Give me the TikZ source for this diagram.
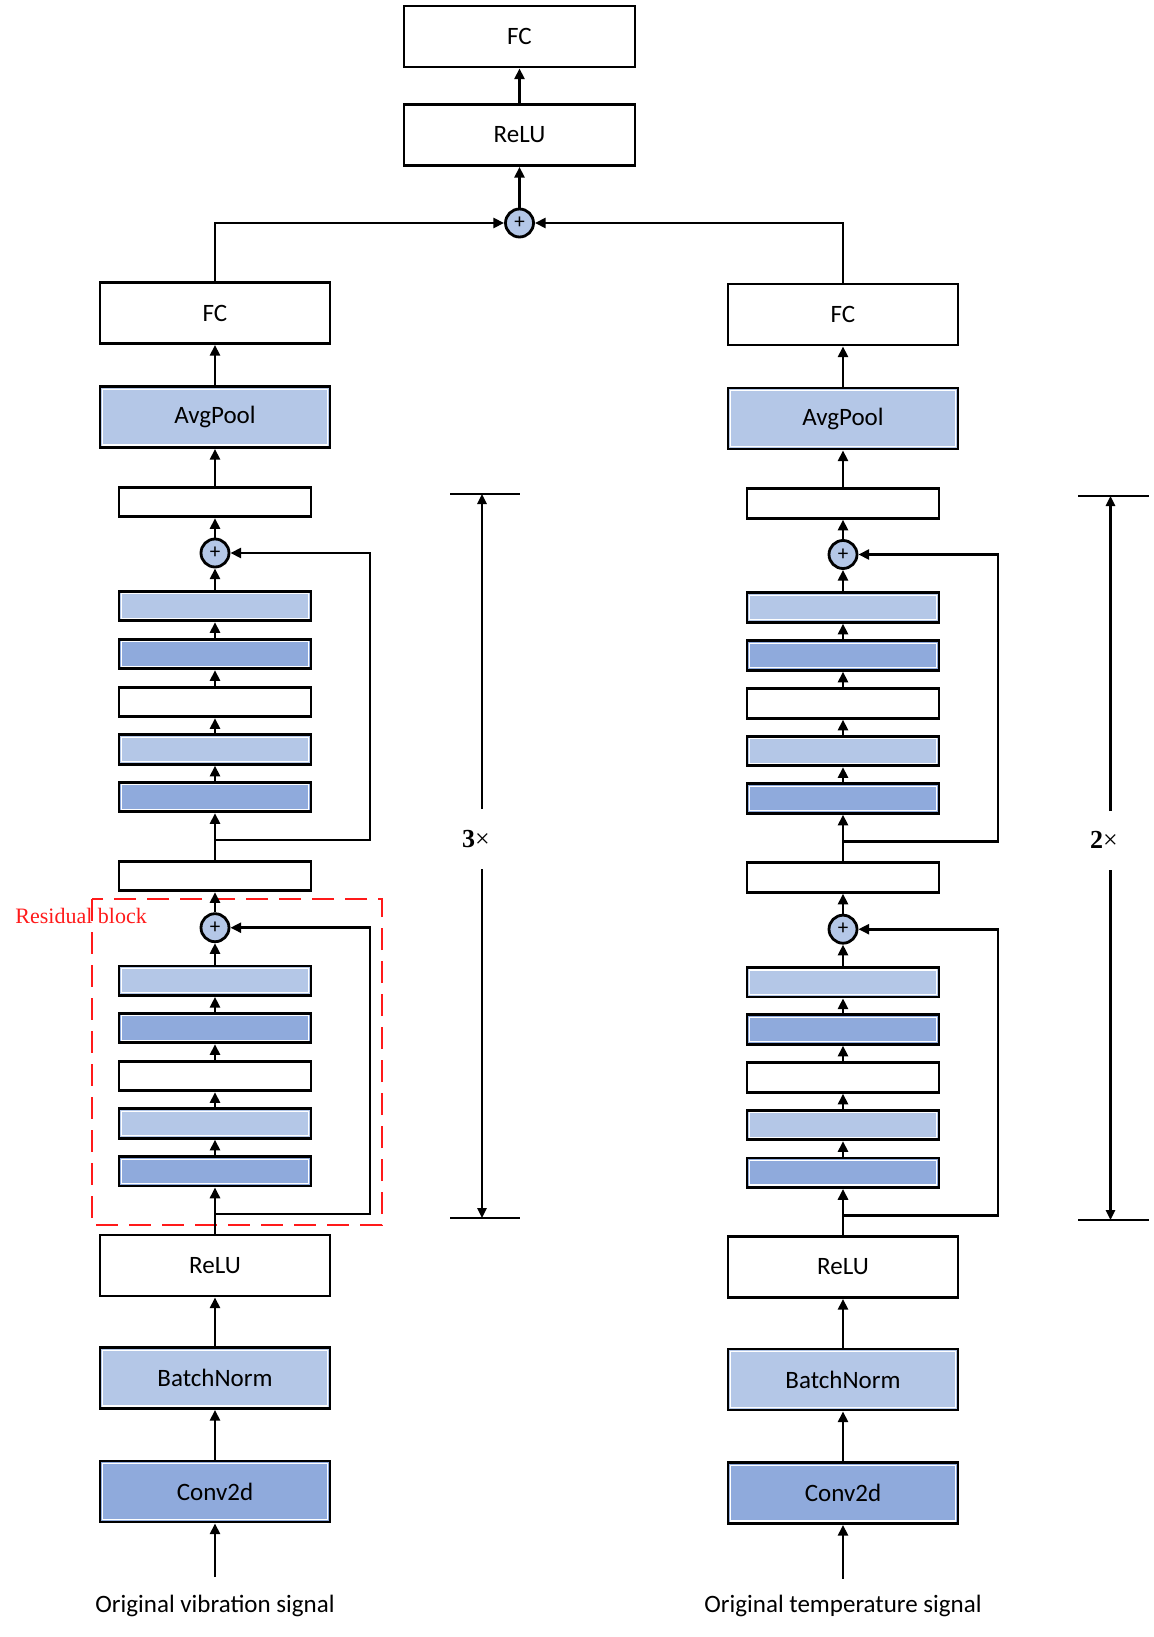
\documentclass[tikz,border=0pt]{standalone}
\usepackage{fontspec}
\setmainfont{Carlito}
\newfontfamily\serifred{Liberation Serif}
\usetikzlibrary{arrows.meta}
\definecolor{lightb}{HTML}{B4C7E7}
\definecolor{darkb}{HTML}{8FAADC}
\definecolor{resred}{HTML}{FF1A1A}
\tikzset{
  lw/.style={line width=1.4pt},
  inwhite/.style={path picture={\draw[white,line width=0.6pt] ([shift={(1.3pt,-1.3pt)}]path picture bounding box.north west) rectangle ([shift={(-1.3pt,1.3pt)}]path picture bounding box.south east);}},
  bigbox/.style={draw, lw, rectangle, minimum width=115pt, minimum height=30.5pt, inner sep=0pt, font=\fontsize{12.5}{14}\selectfont},
  bigw/.style={bigbox, fill=white},
  bigl/.style={bigbox, fill=lightb, inwhite},
  bigd/.style={bigbox, fill=darkb, inwhite},
  thinbox/.style={draw, lw, rectangle, minimum width=96pt, minimum height=14.75pt, inner sep=0pt},
  thinw/.style={thinbox, fill=white},
  thinl/.style={thinbox, fill=lightb, inwhite},
  thind/.style={thinbox, fill=darkb, inwhite},
  plusnode/.style={draw, lw, circle, fill=lightb, minimum size=14pt, inner sep=0pt, font=\fontsize{10.5}{10}\selectfont},
  arr/.style={lw, -{Triangle[length=5.4pt,width=5pt]}},
  thinline/.style={line width=1.1pt},
  dimarr/.style={line width=1.1pt, -{Triangle[length=5pt,width=4.6pt]}},
  sig/.style={anchor=base, font=\fontsize{12.5}{14}\selectfont},
  dimlab/.style={font=\serifred\fontsize{13}{14}\selectfont},
  resbox/.style={draw=resred, line width=1pt, dash pattern=on 11pt off 5.5pt},
}
\begin{document}
\begin{tikzpicture}[x=0.5pt,y=-0.5pt]
\useasboundingbox (0,0) rectangle (1153,1637);
% top part
\node[bigw, minimum width=115.5pt] (Tfc) at (519.5,36.5) {FC};
\node[bigw, minimum width=115.5pt] (Trelu) at (519.5,135) {ReLU};
\node[plusnode] (Tp) at (519.5,223) {+};
\draw[arr] (Tp) -- (Trelu);
\draw[arr] (Trelu) -- (Tfc);
% residual block frame
\coordinate (rbA) at (92,899);
\coordinate (rbB) at (382,1225);
\draw[resbox] (rbA) rectangle (rbB);
\node[anchor=base west, text=resred, font=\serifred\fontsize{11}{12}\selectfont, inner sep=0pt] (rblab) at (15,923) {Residual block};
% columns
\foreach \s/\x/\d/\k/\txt in {L/215/0/370/Original vibration signal, R/843/1.5/998/Original temperature signal}{
  \node[bigw] (\s fc) at (\x,{313+\d}) {FC};
  \node[bigl] (\s avg) at (\x,{417+\d}) {AvgPool};
  \node[thinw] (\s t2) at (\x,{502+\d}) {};
  \node[plusnode] (\s p2) at (\x,{553+\d}) {+};
  \node[thinl] (\s b2e) at (\x,{606+\d}) {};
  \node[thind] (\s b2d) at (\x,{654+\d}) {};
  \node[thinw] (\s b2c) at (\x,{702+\d}) {};
  \node[thinl] (\s b2b) at (\x,{749.5+\d}) {};
  \node[thind] (\s b2a) at (\x,{797+\d}) {};
  \coordinate (\s br2) at (\x,{840+\d});
  \coordinate (\s k2) at (\k,{840+\d});
  \node[thinw] (\s t1) at (\x,{876+\d}) {};
  \node[plusnode] (\s p1) at (\x,{927.7+\d}) {+};
  \node[thinl] (\s b1e) at (\x,{980.7+\d}) {};
  \node[thind] (\s b1d) at (\x,{1028+\d}) {};
  \node[thinw] (\s b1c) at (\x,{1076+\d}) {};
  \node[thinl] (\s b1b) at (\x,{1123.5+\d}) {};
  \node[thind] (\s b1a) at (\x,{1171.3+\d}) {};
  \coordinate (\s br1) at (\x,{1214+\d});
  \coordinate (\s k1) at (\k,{1214+\d});
  \node[bigw] (\s relu) at (\x,{1265.5+\d}) {ReLU};
  \node[bigl] (\s bn) at (\x,{1378+\d}) {BatchNorm};
  \node[bigd] (\s conv) at (\x,{1491.5+\d}) {Conv2d};
  \coordinate (\s in) at (\x,{1577+\d});
  \node[sig] (\s txt) at (\x,1612) {\txt};
  % chain
  \draw[arr] (\s in) -- (\s conv);
  \draw[arr] (\s conv) -- (\s bn);
  \draw[arr] (\s bn) -- (\s relu);
  \draw[arr] (\s relu) -- (\s b1a);
  \draw[arr] (\s b1a) -- (\s b1b);
  \draw[arr] (\s b1b) -- (\s b1c);
  \draw[arr] (\s b1c) -- (\s b1d);
  \draw[arr] (\s b1d) -- (\s b1e);
  \draw[arr] (\s b1e) -- (\s p1);
  \draw[arr] (\s p1) -- (\s t1);
  \draw[arr] (\s t1) -- (\s b2a);
  \draw[arr] (\s b2a) -- (\s b2b);
  \draw[arr] (\s b2b) -- (\s b2c);
  \draw[arr] (\s b2c) -- (\s b2d);
  \draw[arr] (\s b2d) -- (\s b2e);
  \draw[arr] (\s b2e) -- (\s p2);
  \draw[arr] (\s p2) -- (\s t2);
  \draw[arr] (\s t2) -- (\s avg);
  \draw[arr] (\s avg) -- (\s fc);
  % skip connections
  \draw[arr] (\s br1) -- (\s k1) |- (\s p1);
  \draw[arr] (\s br2) -- (\s k2) |- (\s p2);
  % to merge
  \draw[arr] (\s fc) |- (Tp);
}
% dimension markers
\node[dimlab] (d3) at (476,839) {\textbf{3}×};
\coordinate (d3a) at (482,809);
\coordinate (d3b) at (482,869);
\coordinate (d3t) at (482,494);
\coordinate (d3u) at (482,1218);
\coordinate (d3tl) at (450,494);
\coordinate (d3tr) at (520,494);
\coordinate (d3ul) at (450,1218);
\coordinate (d3ur) at (520,1218);
\draw[dimarr] (d3a) -- (d3t);
\draw[dimarr] (d3b) -- (d3u);
\draw[thinline] (d3tl) -- (d3tr);
\draw[thinline] (d3ul) -- (d3ur);
\node[dimlab] (d2) at (1104,840) {\textbf{2}×};
\coordinate (d2a) at (1110.5,811);
\coordinate (d2b) at (1110.5,870);
\coordinate (d2t) at (1110.5,496);
\coordinate (d2u) at (1110.5,1220);
\coordinate (d2tl) at (1078,496);
\coordinate (d2tr) at (1149,496);
\coordinate (d2ul) at (1078,1220);
\coordinate (d2ur) at (1149,1220);
\draw[dimarr] (d2a) -- (d2t);
\draw[dimarr] (d2b) -- (d2u);
\draw[thinline] (d2tl) -- (d2tr);
\draw[thinline] (d2ul) -- (d2ur);
\end{tikzpicture}
\end{document}
